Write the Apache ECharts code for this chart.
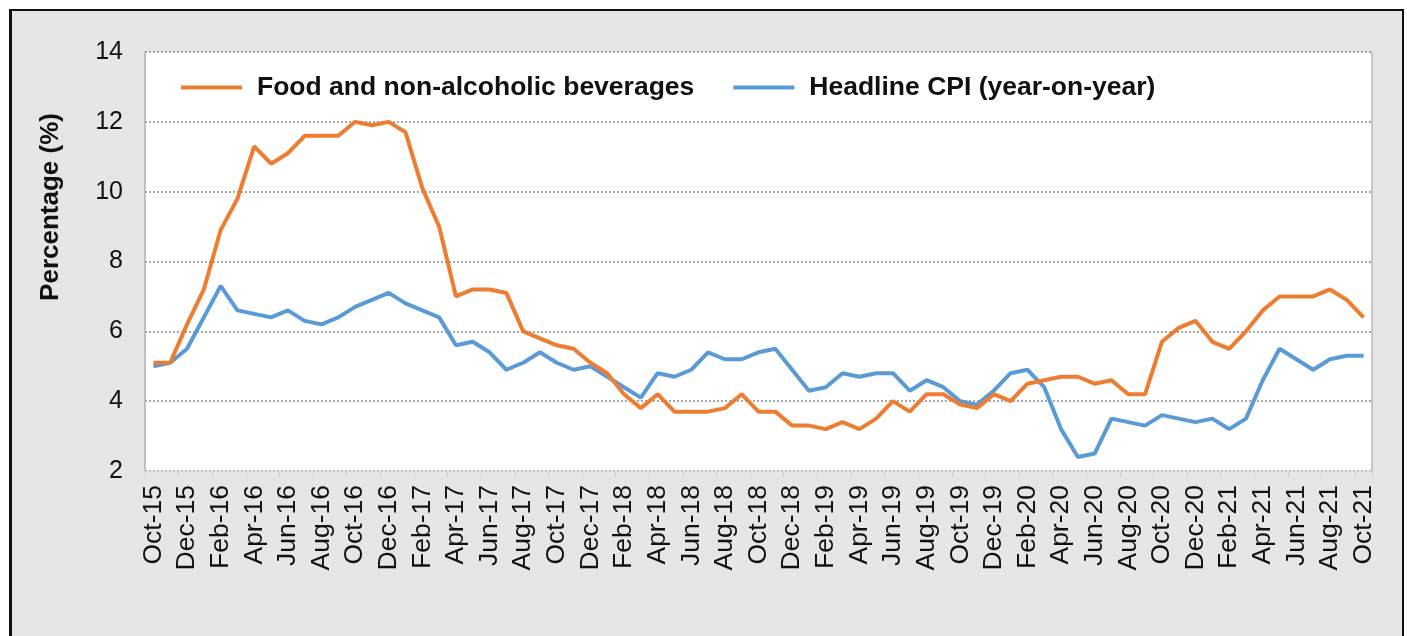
<!DOCTYPE html>
<html>
<head>
<meta charset="utf-8">
<script src="https://cdn.jsdelivr.net/npm/echarts@6/dist/echarts.min.js"></script>
<style>
  html, body { margin: 0; padding: 0; background: #fff; overflow: hidden; }
  #frame { position: absolute; left: 9px; top: 9px; width: 1390px; height: 660px;
           border: 2px solid #111; border-left-width: 3px; background: #e6e6e6; }
  #main { position: absolute; left: 0; top: 0; width: 1407px; height: 636px; }
</style>
</head>
<body>
<div id="frame"></div>
<div id="main"></div>
<script>
// months Oct-15 .. Oct-21
var monthNames = ['Jan', 'Feb', 'Mar', 'Apr', 'May', 'Jun', 'Jul', 'Aug', 'Sep', 'Oct', 'Nov', 'Dec']
var months = []
for (var y = 15; y <= 21; y++) {
  for (var m = 0; m < 12; m++) {
    if (y === 15 && m < 9) continue
    if (y === 21 && m > 9) continue
    months.push(monthNames[m] + '-' + y)
  }
}

var food = [
  5.1, 5.1, 6.2, 7.2, 8.9, 9.8, 11.3, 10.8, 11.1, 11.6, 11.6, 11.6,
  12.0, 11.9, 12.0, 11.7, 10.1, 9.0, 7.0, 7.2, 7.2, 7.1, 6.0, 5.8,
  5.6, 5.5, 5.1, 4.8, 4.2, 3.8, 4.2, 3.7, 3.7, 3.7, 3.8, 4.2,
  3.7, 3.7, 3.3, 3.3, 3.2, 3.4, 3.2, 3.5, 4.0, 3.7, 4.2, 4.2,
  3.9, 3.8, 4.2, 4.0, 4.5, 4.6, 4.7, 4.7, 4.5, 4.6, 4.2, 4.2,
  5.7, 6.1, 6.3, 5.7, 5.5, 6.0, 6.6, 7.0, 7.0, 7.0, 7.2, 6.9,
  6.4
]
var cpi = [
  5.0, 5.1, 5.5, 6.4, 7.3, 6.6, 6.5, 6.4, 6.6, 6.3, 6.2, 6.4,
  6.7, 6.9, 7.1, 6.8, 6.6, 6.4, 5.6, 5.7, 5.4, 4.9, 5.1, 5.4,
  5.1, 4.9, 5.0, 4.7, 4.4, 4.1, 4.8, 4.7, 4.9, 5.4, 5.2, 5.2,
  5.4, 5.5, 4.9, 4.3, 4.4, 4.8, 4.7, 4.8, 4.8, 4.3, 4.6, 4.4,
  4.0, 3.9, 4.3, 4.8, 4.9, 4.4, 3.2, 2.4, 2.5, 3.5, 3.4, 3.3,
  3.6, 3.5, 3.4, 3.5, 3.2, 3.5, 4.6, 5.5, 5.2, 4.9, 5.2, 5.3,
  5.3
]
var seriesNames = ['Food and non-alcoholic beverages', 'Headline CPI (year-on-year)']

var myChart = echarts.init(document.getElementById('main'))
myChart.setOption({
  backgroundColor: 'transparent',
  textStyle: { fontFamily: 'Liberation Sans, Arial, sans-serif' },
  color: ['#ED7D31', '#5B9BD5'],
  legend: {
    left: 176,
    top: 69,
    itemWidth: 61,
    itemHeight: 4,
    itemGap: 39,
    icon: 'rect',
    textStyle: { fontSize: 26.5, fontWeight: 'bold', color: '#111', padding: [0, 0, 0, 10] },
    data: seriesNames
  },
  graphic: [{
    type: 'text',
    x: 51, y: 207,
    rotation: Math.PI / 2,
    style: {
      text: 'Percentage (%)',
      fontSize: 26, fontWeight: 'bold', fill: '#111',
      fontFamily: 'Liberation Sans, Arial, sans-serif',
      align: 'center', verticalAlign: 'middle'
    }
  }],
  grid: {
    left: 145, right: 35, top: 52, bottom: 165,
    show: true, backgroundColor: '#fff', borderWidth: 0
  },
  xAxis: {
    type: 'category',
    data: months,
    boundaryGap: true,
    axisLine: { show: true, lineStyle: { color: '#d6d6d6', width: 1 } },
    axisTick: { show: true, interval: 1, length: 6, lineStyle: { color: '#d0d0d0' } },
    axisLabel: { interval: 1, rotate: 90, margin: 14, fontSize: 26.5, color: '#111' }
  },
  yAxis: [{
    type: 'value',
    min: 2, max: 14, interval: 2,
    axisLine: { show: true, lineStyle: { color: '#b0b0b0', width: 1.5 } },
    axisTick: { show: false },
    axisLabel: { margin: 22, fontSize: 25, color: '#111' },
    splitLine: { lineStyle: { color: '#8c8c8c', type: [2, 2], width: 1.5 } }
  }, {
    type: 'value',
    position: 'right',
    min: 2, max: 14, interval: 2,
    axisLine: { show: true, lineStyle: { color: '#b8b8b8', width: 1.5 } },
    axisTick: { show: false },
    axisLabel: { show: false },
    splitLine: { show: false }
  }],
  series: [
    {
      name: seriesNames[0], type: 'line', data: food,
      symbol: 'none', lineStyle: { width: 4 }, z: 3
    },
    {
      name: seriesNames[1], type: 'line', data: cpi,
      symbol: 'none', lineStyle: { width: 4 }, z: 2
    }
  ]
})
</script>
</body>
</html>
